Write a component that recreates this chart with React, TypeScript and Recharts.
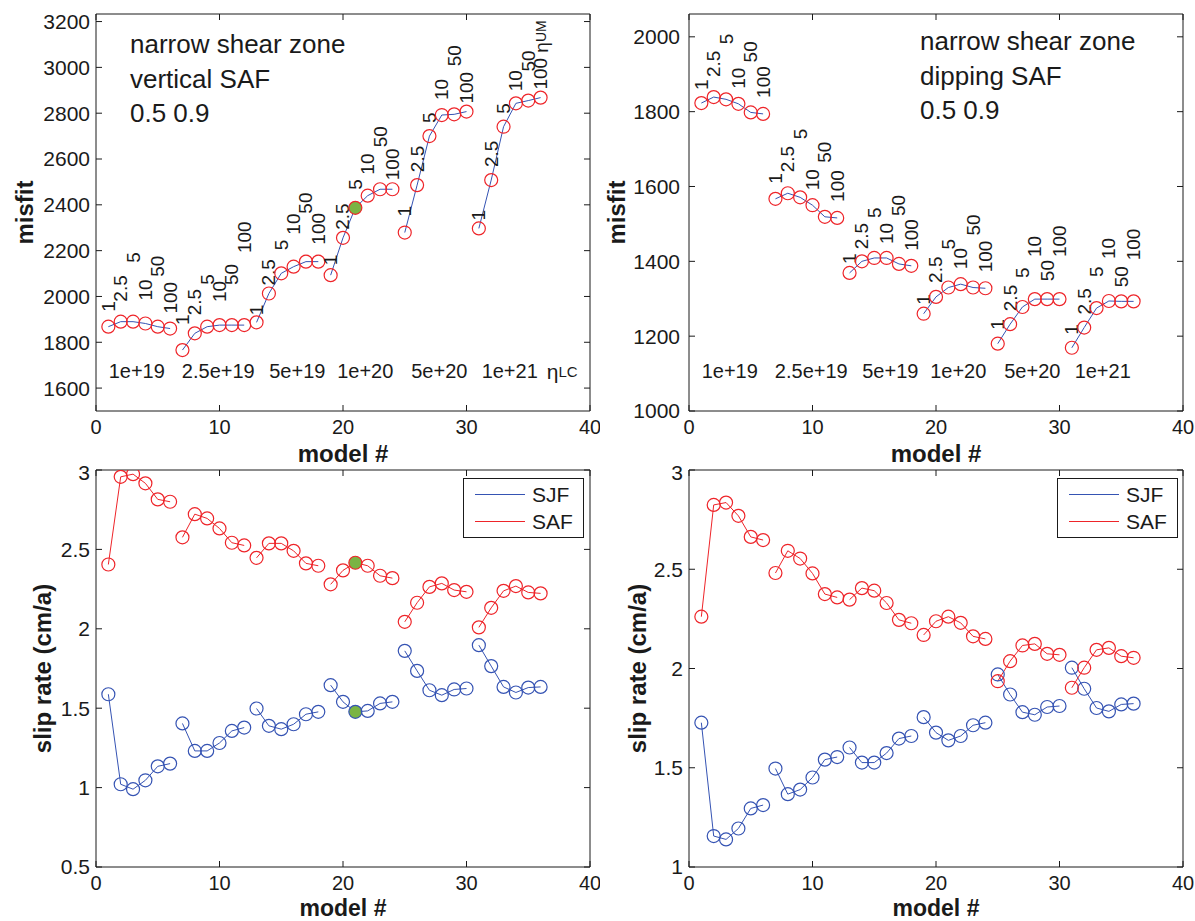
import React from "react";
import { LineChart, Line, XAxis, YAxis, ReferenceDot, Legend } from "recharts";

// model numbers and the two viscosity labels used on every group of six
const models = [
  1, 2, 3, 4, 5, 6, 7, 8, 9, 10, 11, 12, 13, 14, 15, 16, 17, 18,
  19, 20, 21, 22, 23, 24, 25, 26, 27, 28, 29, 30, 31, 32, 33, 34, 35, 36,
];
const etaUM = ["1", "2.5", "5", "10", "50", "100"];
const etaLC = ["1e+19", "2.5e+19", "5e+19", "1e+20", "5e+20", "1e+21"];
const etaLCAt = [3.3, 9.9, 16.3, 21.8, 27.8, 33.5];
const faults = ["SJF", "SAF"];

const misfitVertical = [
  1868, 1890, 1890, 1882, 1868, 1860,
  1766, 1839, 1868, 1875, 1875, 1875,
  1887, 2013, 2101, 2130, 2152, 2152,
  2093, 2256, 2387, 2440, 2468, 2468,
  2279, 2486, 2700, 2792, 2795, 2807,
  2297, 2508, 2741, 2843, 2855, 2868,
];
const misfitDipping = [
  1823, 1839, 1833, 1821, 1798, 1794,
  1567, 1582, 1571, 1550, 1519, 1516,
  1369, 1400, 1409, 1409, 1393, 1388,
  1260, 1305, 1330, 1339, 1330, 1328,
  1180, 1232, 1278, 1299, 1299, 1299,
  1169, 1223, 1275, 1294, 1293, 1293,
];
const sjfVertical = [
  1.588, 1.021, 0.99, 1.046, 1.134, 1.151,
  1.404, 1.231, 1.231, 1.281, 1.357, 1.378,
  1.498, 1.389, 1.368, 1.399, 1.462, 1.477,
  1.645, 1.54, 1.477, 1.483, 1.53, 1.54,
  1.861, 1.735, 1.613, 1.582, 1.618, 1.624,
  1.897, 1.765, 1.634, 1.599, 1.63, 1.634,
];
const safVertical = [
  2.405, 2.957, 2.974, 2.916, 2.815, 2.8,
  2.576, 2.722, 2.695, 2.632, 2.542, 2.525,
  2.447, 2.538, 2.538, 2.491, 2.412, 2.397,
  2.28, 2.368, 2.416, 2.397, 2.334, 2.319,
  2.044, 2.164, 2.264, 2.286, 2.244, 2.233,
  2.009, 2.132, 2.239, 2.269, 2.229, 2.223,
];
const sjfDipping = [
  1.727, 1.156, 1.139, 1.194, 1.295, 1.312,
  1.496, 1.367, 1.39, 1.451, 1.541, 1.554,
  1.602, 1.526, 1.526, 1.574, 1.647, 1.66,
  1.755, 1.677, 1.638, 1.66, 1.714, 1.727,
  1.97, 1.869, 1.78, 1.767, 1.806, 1.811,
  2.004, 1.898, 1.801, 1.784, 1.819, 1.823,
];
const safDipping = [
  2.261, 2.824, 2.836, 2.769, 2.663, 2.647,
  2.481, 2.593, 2.554, 2.479, 2.375, 2.358,
  2.347, 2.405, 2.392, 2.33, 2.245, 2.228,
  2.169, 2.238, 2.261, 2.23, 2.162, 2.149,
  1.936, 2.037, 2.116, 2.124, 2.074, 2.069,
  1.903, 2.004, 2.094, 2.104, 2.062, 2.054,
];
const pickedModel = 21;

const modelTicks = [0, 10, 20, 30, 40];
const misfitTicksV = [1600, 1800, 2000, 2200, 2400, 2600, 2800, 3000, 3200];
const misfitTicksD = [1000, 1200, 1400, 1600, 1800, 2000];
const slipTicksV = [0.5, 1, 1.5, 2, 2.5, 3];
const slipTicksD = [1, 1.5, 2, 2.5, 3];

// px gap between a circle and the start of its rotated viscosity label
const labelGapV = [
  [15, 20, 59, 23, 50, 15],
  [25, 18, 42, 23, 40, 72],
  [7, 8, 23, 32, 48, 17],
  [10, 8, 18, 21, 42, 9],
  [16, 13, 13, 15, 48, 8],
  [8, 13, 13, 12, 29, 8],
];
const labelGapD = [
  [13, 20, 55, 15, 50, 16],
  [15, 21, 58, 15, 54, 16],
  [9, 12, 40, 14, 48, 15],
  [9, 14, 38, 15, 52, 16],
  [14, 13, 29, 42, 18, 42],
  [13, 13, 31, 42, 14, 41],
];

const FONT = '"Liberation Sans", Arial, Helvetica, sans-serif';
const INK = "#1a1a1a";
const BLUE = "#3553b3";
const RED = "#ee2429";
const GREEN = "#7ab443";

function buildRows(cols: Record<string, number[]>) {
  const rows: any[] = [];
  models.forEach((m, i) => {
    const row: any = { model: m, g: Math.floor(i / 6), k: i % 6 };
    for (const key in cols) row[key] = cols[key][i];
    rows.push(row);
    if (i % 6 === 5 && i < models.length - 1) {
      const gap: any = { model: m + 0.5 };
      for (const key in cols) gap[key] = null;
      rows.push(gap);
    }
  });
  return rows;
}

const rowsV = buildRows({ misfit: misfitVertical, sjf: sjfVertical, saf: safVertical });
const rowsD = buildRows({ misfit: misfitDipping, sjf: sjfDipping, saf: safDipping });

const misfitDot = (gaps: number[][], highlight: boolean, tail: boolean) => (props: any) => {
  const { cx, cy, payload, index } = props;
  if (cy == null || payload == null || payload.misfit == null) return <g key={"d" + index} />;
  const ty = cy - gaps[payload.g][payload.k];
  const last = tail && payload.model === models[models.length - 1];
  return (
    <g key={"d" + index}>
      <circle
        cx={cx}
        cy={cy}
        r={6.5}
        fill={highlight && payload.model === pickedModel ? GREEN : "none"}
        stroke={RED}
        strokeWidth={1.2}
      />
      <text
        x={cx}
        y={ty}
        transform={`rotate(-90 ${cx} ${ty})`}
        fontSize={19}
        fill={INK}
        dominantBaseline="central"
      >
        {etaUM[payload.k]}
        {last && <tspan> η</tspan>}
        {last && <tspan fontSize={14}>UM</tspan>}
      </text>
    </g>
  );
};

const slipDot = (key: string, color: string, highlight: boolean) => (props: any) => {
  const { cx, cy, payload, index } = props;
  if (cy == null || payload == null || payload[key] == null) return <g key={"d" + index} />;
  return (
    <circle
      key={"d" + index}
      cx={cx}
      cy={cy}
      r={6.5}
      fill={highlight && payload.model === pickedModel ? GREEN : "none"}
      stroke={color}
      strokeWidth={1.2}
    />
  );
};

const yTitle = (text: string, dx: number) => (props: any) => {
  const vb = props.viewBox || {};
  const x = vb.x + dx;
  const y = vb.y + vb.height / 2;
  return (
    <text
      x={x}
      y={y}
      transform={`rotate(-90 ${x} ${y})`}
      textAnchor="middle"
      dominantBaseline="central"
      fontSize={24}
      fontWeight="bold"
      fill={INK}
    >
      {text}
    </text>
  );
};

const xTitle = (dy: number, size: number) => (props: any) => {
  const vb = props.viewBox || {};
  return (
    <text
      x={vb.x + vb.width / 2}
      y={vb.y + dy}
      textAnchor="middle"
      fontSize={size}
      fontWeight="bold"
      fill={INK}
    >
      model #
    </text>
  );
};

const etaLCLabel = (props: any) => {
  const vb = props.viewBox || {};
  return (
    <text x={vb.x} y={vb.y} dominantBaseline="central" fontSize={21} fill={INK}>
      <tspan>η</tspan>
      <tspan fontSize={15}>LC</tspan>
    </text>
  );
};

const renderLegend = (props: any) => {
  const items = [...(props.payload || [])].sort(
    (a: any, b: any) => faults.indexOf(a.value) - faults.indexOf(b.value)
  );
  return (
    <div
      style={{
        border: `1.5px solid ${INK}`,
        background: "#fff",
        padding: "2px 10px 2px 11px",
        fontSize: 21,
        color: INK,
      }}
    >
      {items.map((p: any) => (
        <div key={p.value} style={{ display: "flex", alignItems: "center", height: 27 }}>
          <span
            style={{
              display: "inline-block",
              width: 50,
              borderTop: `1px solid ${p.color}`,
              marginRight: 7,
            }}
          />
          {p.value}
        </div>
      ))}
    </div>
  );
};

function frame(
  yDomain: number[],
  yTicks: number[],
  yWidth: number,
  rightWidth: number,
  bottomHeight: number,
  tickMarginY: number,
  title: string,
  titleDx: number,
  xTitleDy: number,
  xTitleSize: number
) {
  const line = { stroke: INK, strokeWidth: 1 };
  const tick = { fill: INK, fontSize: 20 };
  return [
    <XAxis
      key="xb"
      dataKey="model"
      type="number"
      domain={[0, 40]}
      ticks={modelTicks}
      height={bottomHeight}
      tickSize={-6}
      tickMargin={15}
      axisLine={line}
      tickLine={line}
      tick={tick}
      allowDataOverflow
      label={xTitle(xTitleDy, xTitleSize)}
    />,
    <XAxis
      key="xt"
      xAxisId="top"
      orientation="top"
      type="number"
      domain={[0, 40]}
      ticks={modelTicks}
      height={4}
      tickSize={-6}
      axisLine={line}
      tickLine={line}
      tickFormatter={() => ""}
      allowDataOverflow
    />,
    <YAxis
      key="yl"
      type="number"
      domain={yDomain}
      ticks={yTicks}
      width={yWidth}
      tickSize={-6}
      tickMargin={tickMarginY}
      axisLine={line}
      tickLine={line}
      tick={{ fill: INK, fontSize: 21 }}
      allowDataOverflow
      label={yTitle(title, titleDx)}
    />,
    <YAxis
      key="yr"
      yAxisId="right"
      orientation="right"
      type="number"
      domain={yDomain}
      ticks={yTicks}
      width={rightWidth}
      tickSize={-6}
      axisLine={line}
      tickLine={line}
      tickFormatter={() => ""}
      allowDataOverflow
    />,
  ];
}

const boxStyle = (left: number, top: number): React.CSSProperties => ({
  position: "absolute",
  left,
  top,
});

const noteStyle = (left: number, top: number): React.CSSProperties => ({
  position: "absolute",
  left,
  top,
  fontSize: 26,
  lineHeight: "34.5px",
  color: INK,
  whiteSpace: "nowrap",
});

export default function App() {
  return (
    <div
      style={{
        position: "absolute",
        left: 0,
        top: 0,
        width: 1195,
        height: 921,
        background: "#fff",
        fontFamily: FONT,
        color: INK,
      }}
    >
      {/* misfit, vertical SAF */}
      <div style={boxStyle(0, 0)}>
        <LineChart width={600} height={470} data={rowsV} margin={{ top: 10, right: 0, bottom: 0, left: 0 }}>
          {frame([1500, 3233], misfitTicksV, 96, 10, 59, 12, "misfit", 24, 51, 24)}
          {etaLC.map((t, i) => (
            <ReferenceDot
              key={t}
              x={etaLCAt[i]}
              y={1675}
              r={0}
              fill="none"
              stroke="none"
              label={{ value: t, position: "center", fill: INK, fontSize: 20 }}
            />
          ))}
          <ReferenceDot x={36.5} y={1675} r={0} fill="none" stroke="none" label={etaLCLabel} />
          <Line
            type="linear"
            dataKey="misfit"
            stroke={BLUE}
            strokeWidth={1}
            dot={misfitDot(labelGapV, true, true)}
            activeDot={false}
            isAnimationActive={false}
          />
        </LineChart>
      </div>

      {/* misfit, dipping SAF */}
      <div style={boxStyle(596, 0)}>
        <LineChart width={599} height={470} data={rowsD} margin={{ top: 10, right: 0, bottom: 0, left: 0 }}>
          {frame([1000, 2061], misfitTicksD, 93, 12, 59, 15, "misfit", 20, 51, 24)}
          {etaLC.map((t, i) => (
            <ReferenceDot
              key={t}
              x={etaLCAt[i]}
              y={1106}
              r={0}
              fill="none"
              stroke="none"
              label={{ value: t, position: "center", fill: INK, fontSize: 20 }}
            />
          ))}
          <Line
            type="linear"
            dataKey="misfit"
            stroke={BLUE}
            strokeWidth={1}
            dot={misfitDot(labelGapD, false, false)}
            activeDot={false}
            isAnimationActive={false}
          />
        </LineChart>
      </div>

      {/* slip rate, vertical SAF */}
      <div style={boxStyle(0, 460)}>
        <LineChart width={600} height={461} data={rowsV} margin={{ top: 6, right: 0, bottom: 0, left: 0 }}>
          {frame([0.5, 3], slipTicksV, 96, 10, 54, 12, "slip rate (cm/a)", 42, 49, 23)}
          <Legend
            layout="vertical"
            align="center"
            verticalAlign="middle"
            content={renderLegend}
            wrapperStyle={{ left: 463, top: 18, width: "auto", height: "auto" }}
          />
          <Line
            type="linear"
            name="SJF"
            dataKey="sjf"
            stroke={BLUE}
            strokeWidth={1}
            dot={slipDot("sjf", BLUE, true)}
            activeDot={false}
            isAnimationActive={false}
          />
          <Line
            type="linear"
            name="SAF"
            dataKey="saf"
            stroke={RED}
            strokeWidth={1}
            dot={slipDot("saf", RED, true)}
            activeDot={false}
            isAnimationActive={false}
          />
        </LineChart>
      </div>

      {/* slip rate, dipping SAF */}
      <div style={boxStyle(596, 460)}>
        <LineChart width={599} height={461} data={rowsD} margin={{ top: 6, right: 0, bottom: 0, left: 0 }}>
          {frame([1, 3], slipTicksD, 93, 12, 54, 12, "slip rate (cm/a)", 41, 49, 23)}
          <Legend
            layout="vertical"
            align="center"
            verticalAlign="middle"
            content={renderLegend}
            wrapperStyle={{ left: 461, top: 18, width: "auto", height: "auto" }}
          />
          <Line
            type="linear"
            name="SJF"
            dataKey="sjf"
            stroke={BLUE}
            strokeWidth={1}
            dot={slipDot("sjf", BLUE, false)}
            activeDot={false}
            isAnimationActive={false}
          />
          <Line
            type="linear"
            name="SAF"
            dataKey="saf"
            stroke={RED}
            strokeWidth={1}
            dot={slipDot("saf", RED, false)}
            activeDot={false}
            isAnimationActive={false}
          />
        </LineChart>
      </div>

      <div style={noteStyle(130, 27)}>
        narrow shear zone
        <br />
        vertical SAF
        <br />
        0.5 0.9
      </div>
      <div style={noteStyle(920, 24)}>
        narrow shear zone
        <br />
        dipping SAF
        <br />
        0.5 0.9
      </div>
    </div>
  );
}
